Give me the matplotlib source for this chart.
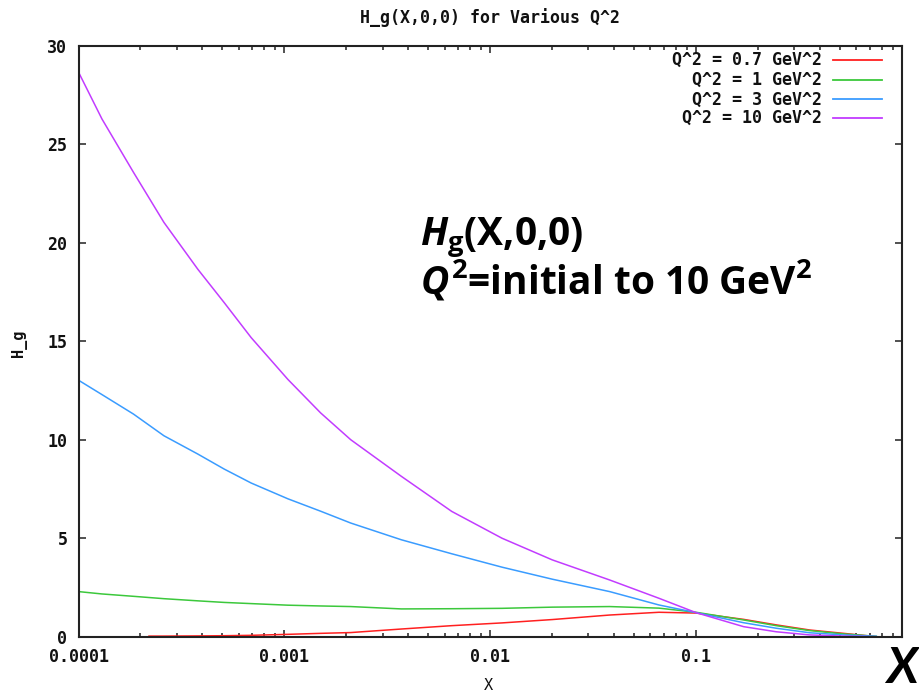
import matplotlib
matplotlib.use("Agg")
import matplotlib.pyplot as plt
from matplotlib.ticker import FixedLocator, LogLocator, NullFormatter
import numpy as np

# ---------------- data ----------------
x_grid = [1e-4, 1.3e-4, 1.85e-4, 2.6e-4, 3.8e-4, 5.1e-4, 6.9e-4, 1.04e-3, 1.5e-3,
          2.1e-3, 3.7e-3, 6.5e-3, 0.0114, 0.02, 0.038, 0.066, 0.1, 0.17, 0.245,
          0.356, 0.52, 0.75]

h_q10 = [28.66, 26.28, 23.57, 21.03, 18.65, 16.96, 15.18, 13.06, 11.36, 10.0,
         8.14, 6.36, 5.0, 3.9, 2.88, 1.95, 1.22, 0.51, 0.25, 0.09, 0.03, 0.0]
h_q3 = [13.02, 12.29, 11.3, 10.2, 9.27, 8.51, 7.8, 7.0, 6.37, 5.77,
        4.92, 4.21, 3.53, 2.92, 2.29, 1.61, 1.22, 0.71, 0.43, 0.20, 0.09, 0.02]
h_q1 = [2.29, 2.17, 2.05, 1.93, 1.82, 1.74, 1.68, 1.60, 1.56, 1.53,
        1.41, 1.42, 1.44, 1.50, 1.53, 1.45, 1.24, 0.85, 0.56, 0.31, 0.14, 0.02]

x_red = [2.2e-4, 2.6e-4, 3.8e-4, 5.1e-4, 6.9e-4, 1.04e-3, 1.5e-3, 2.1e-3, 3.7e-3,
         6.5e-3, 0.0114, 0.02, 0.038, 0.066, 0.1, 0.17, 0.245, 0.356, 0.52, 0.75]
h_q07 = [0.03, 0.03, 0.04, 0.05, 0.07, 0.12, 0.17, 0.21, 0.39,
         0.56, 0.70, 0.87, 1.10, 1.24, 1.20, 0.88, 0.60, 0.34, 0.17, 0.0]

series_labels = ["Q^2 = 0.7 GeV^2", "Q^2 = 1 GeV^2", "Q^2 = 3 GeV^2", "Q^2 = 10 GeV^2"]
series_colors = ["#ff2020", "#3cc83c", "#3a9cff", "#c23cff"]

xtick_vals = [1e-4, 1e-3, 1e-2, 1e-1]
xtick_labels = ["0.0001", "0.001", "0.01", "0.1"]
ytick_vals = [0, 5, 10, 15, 20, 25, 30]

title = "H_g(X,0,0) for Various Q^2"
xlabel = "X"
ylabel = "H_g"

# ---------------- figure ----------------
W, H = 919, 694
fig = plt.figure(figsize=(W / 100, H / 100), dpi=100)
L, R, T, B = 78.5, 902, 45.7, 636.7
ax = fig.add_axes([L / W, 1 - B / H, (R - L) / W, (B - T) / H])

mono = "DejaVu Sans Mono"
fs = 12

xs = [x_red, x_grid, x_grid, x_grid]
ys = [h_q07, h_q1, h_q3, h_q10]
for xv, yv, c in zip(xs, ys, series_colors):
    ax.plot(xv, yv, color=c, lw=1.1, solid_joinstyle="round")

ax.set_xscale("log")
ax.set_xlim(1e-4, 1)
ax.set_ylim(0, 30)

ax.xaxis.set_major_locator(FixedLocator(xtick_vals))
ax.set_xticklabels(xtick_labels)
ax.xaxis.set_minor_locator(LogLocator(base=10, subs=np.arange(2, 10), numticks=20))
ax.xaxis.set_minor_formatter(NullFormatter())
ax.set_yticks(ytick_vals)
ax.set_yticklabels([str(v) for v in ytick_vals])

for s in ax.spines.values():
    s.set_linewidth(1.5)
    s.set_color("#222222")

ax.tick_params(which="both", direction="in", top=True, right=True,
               color="#222222", width=1.1)
ax.tick_params(which="major", length=5)
ax.tick_params(which="minor", length=2.6)
ax.tick_params(axis="x", which="major", pad=8)
ax.tick_params(axis="y", which="major", pad=8)
for lab in ax.get_xticklabels() + ax.get_yticklabels():
    lab.set_fontfamily(mono)
    lab.set_fontweight("bold")
    lab.set_fontsize(fs)
    lab.set_color("#111111")

fig.text(0.5 * (L + R) / W, 1 - 18 / H, title, ha="center", va="center",
         family=mono, weight="bold", fontsize=fs, color="#111111")
fig.text(19 / W, 1 - 343 / H, ylabel, ha="center", va="center", rotation=90,
         family=mono, weight="bold", fontsize=fs - 1, color="#111111")
fig.text(488 / W, 1 - 685 / H, xlabel, ha="center", va="center",
         family=mono, fontsize=fs - 1, color="#111111")

# legend (gnuplot style: text right-aligned, sample to the right)
leg_rows = [0.9758, 0.9420, 0.9093, 0.8772]
for lab, c, yy in zip(series_labels, series_colors, leg_rows):
    ax.text(0.9025, yy, lab, transform=ax.transAxes, ha="right", va="center",
            family=mono, weight="bold", fontsize=fs, color="#111111")
    ax.plot([0.9162, 0.9754], [yy, yy], transform=ax.transAxes, color=c, lw=1.3,
            clip_on=False)

# annotation
ann_font = "Open Sans"
plt.rcParams["mathtext.fontset"] = "custom"
plt.rcParams["mathtext.rm"] = ann_font + ":bold"
plt.rcParams["mathtext.it"] = ann_font + ":italic:bold"
plt.rcParams["mathtext.bf"] = ann_font + ":bold"
ann_fs = 28
fig.text(420 / W, 1 - 245 / H, r"$H_{\mathrm{g}}$(X,0,0)", ha="left", va="baseline",
         family=ann_font, weight="bold", fontsize=ann_fs, color="black")
fig.text(420 / W, 1 - 294 / H, r"$Q^{2}$=initial to 10 GeV$^{2}$", ha="left",
         va="baseline", family=ann_font, weight="bold", fontsize=ann_fs, color="black")
fig.text(918 / W, 1 - 683 / H, "X", ha="right", va="baseline", family="Lato",
         weight="bold", style="italic", fontsize=36, color="black")

fig.savefig("out.png", dpi=100, facecolor="white")
